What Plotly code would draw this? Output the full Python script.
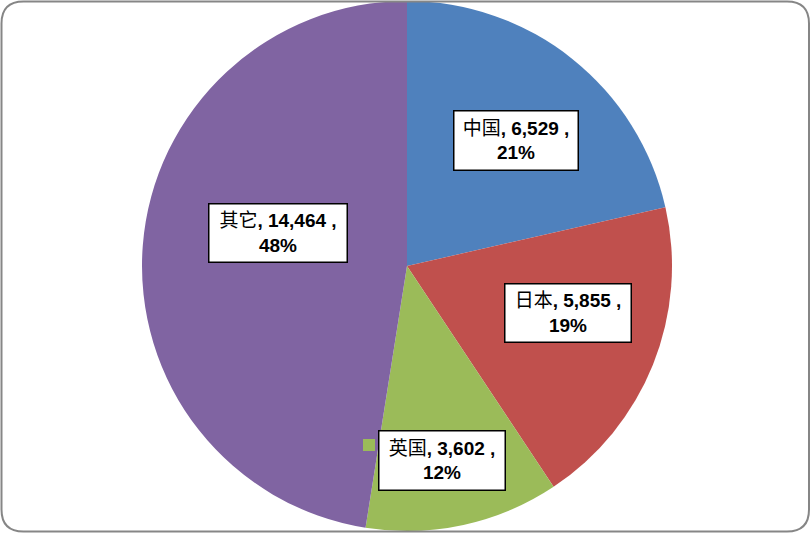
import plotly.graph_objects as go

# Data
categories = ["中国", "日本", "英国", "其它"]
values = [6529, 5855, 3602, 14464]
percent_labels = ["21%", "19%", "12%", "48%"]

colors = ["#4F81BD", "#C0504D", "#9BBB59", "#8064A2"]

W, H = 811, 534
cx, cy, R = 407, 266, 265

fig = go.Figure(go.Pie(
    labels=categories,
    values=values,
    sort=False,
    direction="clockwise",
    rotation=0,
    marker=dict(colors=colors, line=dict(width=0)),
    textinfo="none",
    hoverinfo="label+value+percent",
    domain=dict(x=[(cx - R) / W, (cx + R) / W],
                y=[(H - cy - R) / H, (H - cy + R) / H]),
    showlegend=False,
))

# label box centres (pixels) and sizes
label_pos = [(516, 140), (568, 313), (442, 460), (278, 233)]
label_size = [(126, 61), (128, 60), (128, 61), (140, 60)]

annotations = []
for cat, v, p, (lx, ly), (bw, bh) in zip(categories, values, percent_labels, label_pos, label_size):
    txt = f"{cat}<b>, {v:,} ,<br>{p}</b>"
    annotations.append(dict(
        x=lx / W, y=1 - ly / H, xref="paper", yref="paper",
        xanchor="center", yanchor="middle",
        text=txt, showarrow=False,
        font=dict(family="Liberation Sans, Noto Sans CJK SC, sans-serif", size=19, color="black"),
        bgcolor="white", bordercolor="black", borderwidth=1.5, borderpad=1,
        width=bw - 5, height=bh - 5, align="center", valign="middle",
    ))

shapes = []
# legend key for 英国 label
kx0, ky0, kx1, ky1 = 363, 439, 375, 451
shapes.append(dict(type="rect", xref="paper", yref="paper",
                   x0=kx0 / W, x1=kx1 / W, y0=1 - ky1 / H, y1=1 - ky0 / H,
                   fillcolor=colors[2], line=dict(width=0)))

# outer rounded border
x0, y0, x1, y1, r = 1.5, 1.5, 809, 531.5, 22
def px(x): return x / W
def py(y): return 1 - y / H
path = (f"M {px(x0 + r)},{py(y0)} L {px(x1 - r)},{py(y0)} "
        f"Q {px(x1)},{py(y0)} {px(x1)},{py(y0 + r)} "
        f"L {px(x1)},{py(y1 - r)} Q {px(x1)},{py(y1)} {px(x1 - r)},{py(y1)} "
        f"L {px(x0 + r)},{py(y1)} Q {px(x0)},{py(y1)} {px(x0)},{py(y1 - r)} "
        f"L {px(x0)},{py(y0 + r)} Q {px(x0)},{py(y0)} {px(x0 + r)},{py(y0)} Z")
shapes.append(dict(type="path", xref="paper", yref="paper", path=path,
                   line=dict(color="#868686", width=2), layer="above"))

fig.update_layout(
    width=W, height=H,
    margin=dict(l=0, r=0, t=0, b=0),
    paper_bgcolor="white", plot_bgcolor="white",
    annotations=annotations, shapes=shapes,
)

fig.write_html("out.html", config={"displayModeBar": False},
               post_script="document.body.style.margin='0';document.body.style.overflow='hidden';")
